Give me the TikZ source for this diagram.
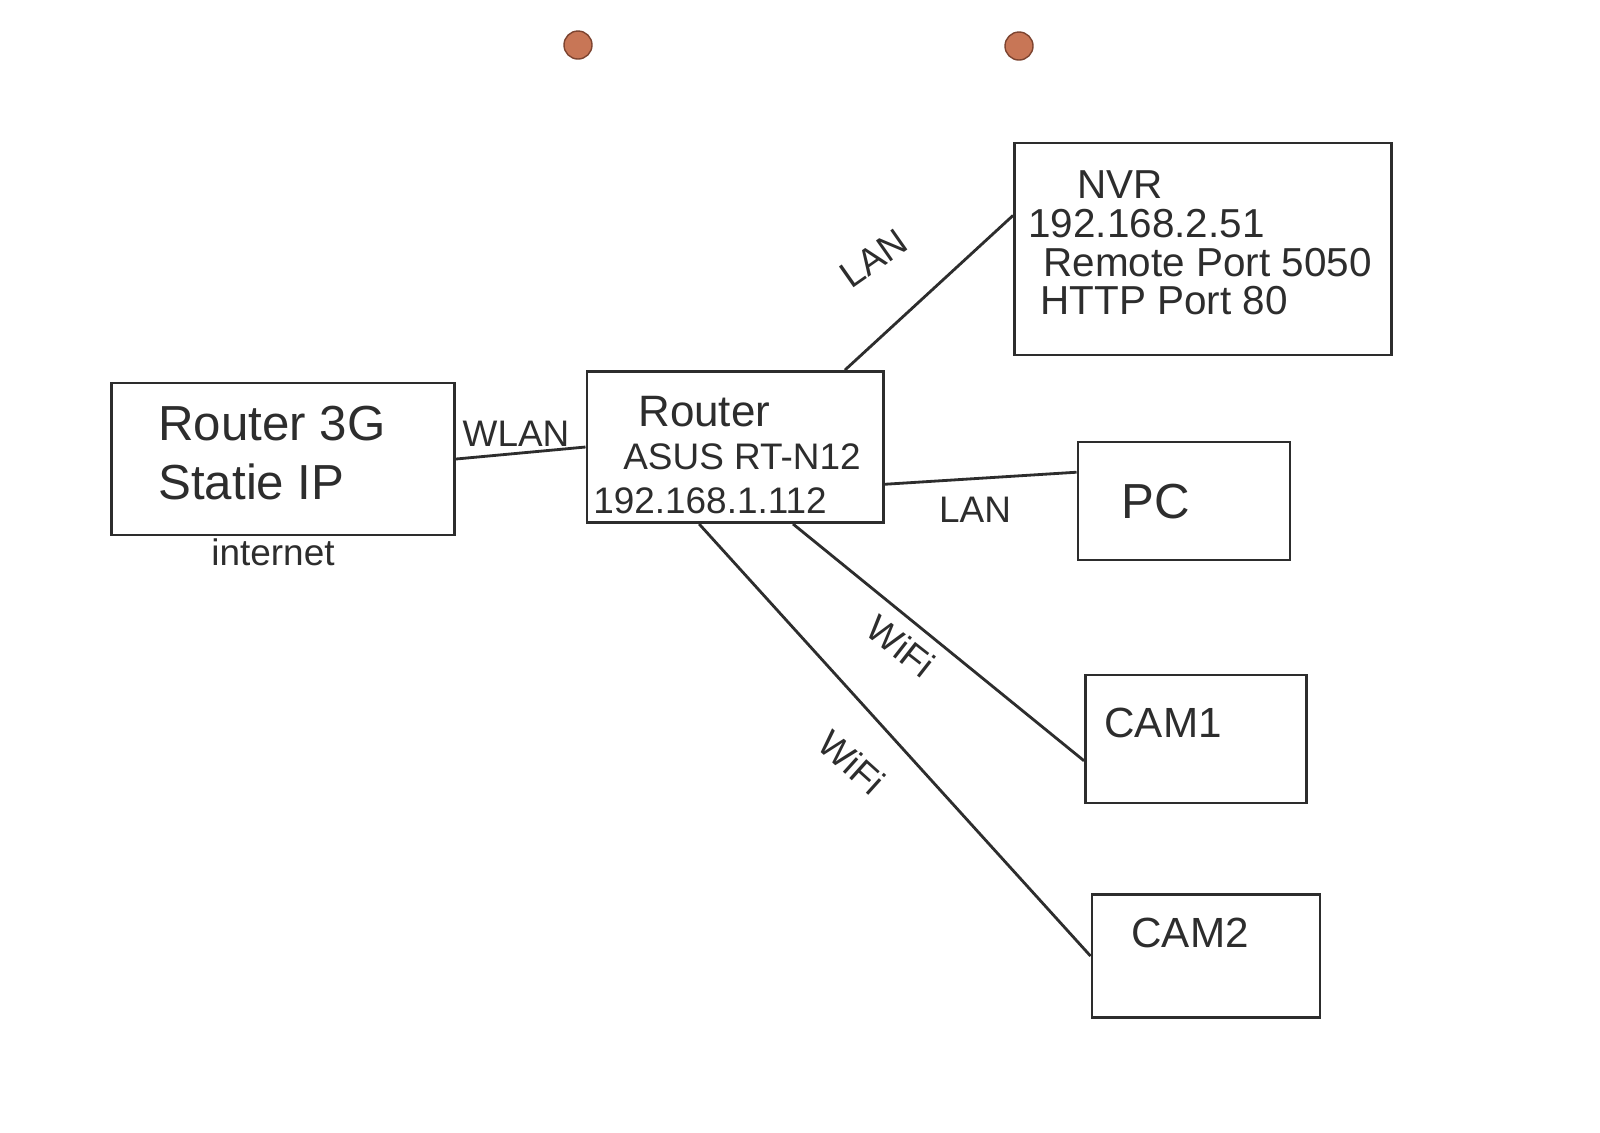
\documentclass[tikz,border=0pt]{standalone}
\usepackage{fontspec}
\setmainfont{Liberation Sans}
\definecolor{pin}{RGB}{200,118,86}
\definecolor{pinrim}{RGB}{125,68,48}
\definecolor{pencil}{RGB}{45,45,45}
\tikzset{
    net box/.style={draw=pencil, line width=0.8pt, inner sep=0pt},
    net text/.style={text=pencil, inner sep=1pt,
                     font=\fontsize{10.5}{12.5}\selectfont},
    net label/.style={net text, font=\fontsize{10.5}{10.5}\selectfont},
    net link/.style={draw=pencil, line width=0.8pt},
    net pin/.style={circle, fill=pin, draw=pinrim, line width=0.4pt,
                    minimum size=0.28cm, inner sep=0pt},
}

\begin{document}
\begin{tikzpicture}[x=0.01cm, y=-0.01cm]
    \fill[white] (0,0) rectangle (1600,1132);
    % Pins at the top of the sheet
    \node[net pin] (pinL) at (578,45) {};
    \node[net pin] (pinR) at (1019,46) {};
    % Boxes
    \node[net box, minimum width=3.43cm, minimum height=1.52cm] (g3) at (283,459) {};
    \node[net box, minimum width=2.96cm, minimum height=1.51cm] (asus) at (735,447) {};
    \node[net box, minimum width=3.77cm, minimum height=2.12cm] (nvr) at (1203,249) {};
    \node[net box, minimum width=2.12cm, minimum height=1.18cm] (pc) at (1184,501) {};
    \node[net box, minimum width=2.21cm, minimum height=1.28cm] (cam1) at (1196,739) {};
    \node[net box, minimum width=2.28cm, minimum height=1.23cm] (cam2) at (1206,956) {};
    % Texts in the boxes
    \node[net text, font=\fontsize{14}{17}\selectfont, align=left] (g3 text) at (272,453)
        {Router 3G\\Statie IP};
    \node[net text, align=left] (asus text) at (727,455)
        {\hspace*{0.45cm}{\fontsize{12.5}{13}\selectfont Router}\\\hspace*{0.3cm}ASUS RT-N12\\192.168.1.112};
    \node[net text, font=\fontsize{11.5}{11}\selectfont, align=left] (nvr text) at (1200,243)
        {\hspace*{0.49cm}NVR\\192.168.2.51\\\hspace*{0.15cm}Remote Port 5050\\\hspace*{0.12cm}HTTP Port 80};
    \node[net text, font=\fontsize{14}{14}\selectfont] (pc text) at (1156,502) {PC};
    \node[net text, font=\fontsize{12}{12}\selectfont] (cam1 text) at (1163,723) {CAM1};
    \node[net text, font=\fontsize{12}{12}\selectfont] (cam2 text) at (1190,933) {CAM2};
    \node[net text] (inet) at (273,552) {internet};
    % Links
    \draw[net link] (g3.east) -- (asus.west);
    \draw[net link] (asus.35.5) -- (nvr.170);
    \draw[net link] (asus.-14.4) -- (pc.165);
    \draw[net link] (asus.-53) -- (cam1.191);
    \draw[net link] (asus.-115) -- (cam2.west);
    % Link labels
    \node[net label] (wlan) at (516,434) {WLAN};
    \node[net label, rotate=35] (lan nvr) at (874,258) {LAN};
    \node[net label] (lan pc) at (975,510) {LAN};
    \node[net label, rotate=-38] (wifi cam1) at (901,646) {WiFi};
    \node[net label, rotate=-42] (wifi cam2) at (852,762) {WiFi};
\end{tikzpicture}
\end{document}
